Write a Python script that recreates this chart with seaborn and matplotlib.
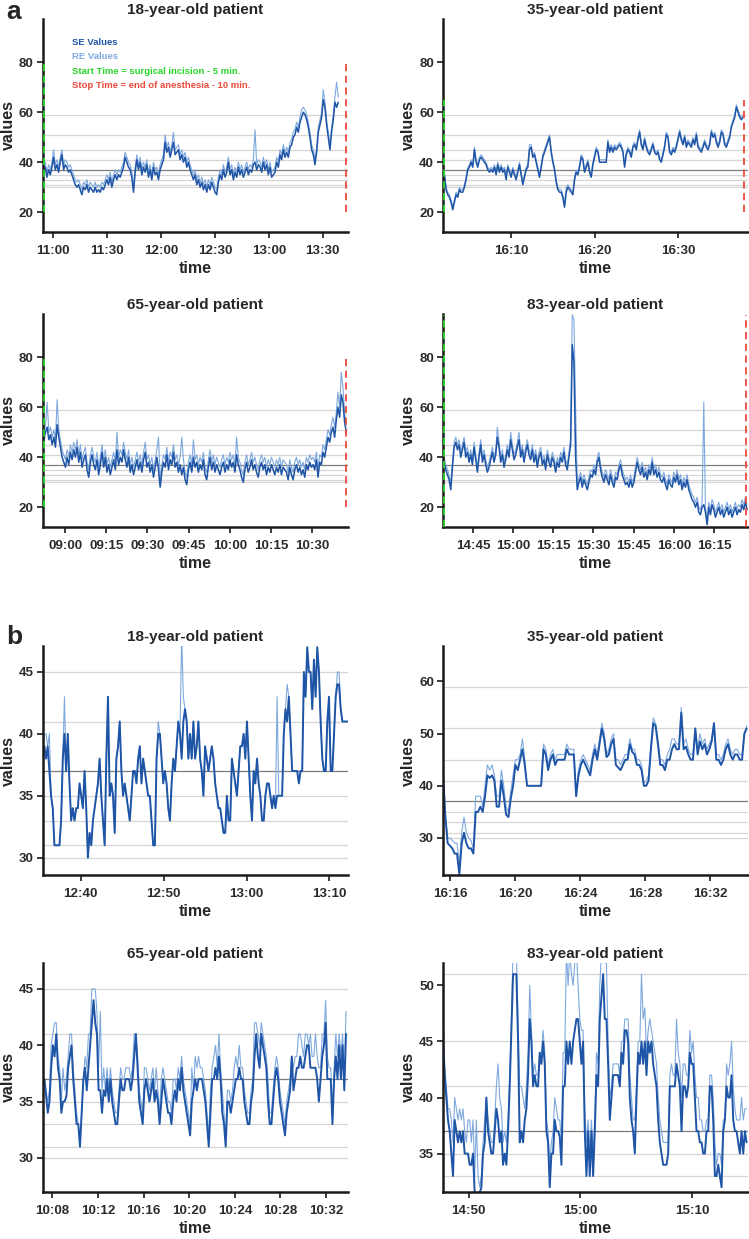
import numpy as np
import pandas as pd
import matplotlib
matplotlib.use("Agg")
import matplotlib.pyplot as plt
import matplotlib.dates as mdates
import seaborn as sns

# ---------------- data ----------------
# (a) full recordings, evenly sampled between start and end time
a18_se = [36,38,34,37,35,38,42,37,39,36,40,43,37,39,38,36,37,35,33,31,30,31,29,27,30,29,31,28,30,29,
          28,30,28,29,28,30,29,31,33,31,34,30,33,35,33,35,34,36,38,42,40,38,37,34,28,36,41,37,40,35,
          38,36,39,34,37,33,38,35,36,33,37,39,41,48,44,46,42,45,48,43,44,45,41,43,40,42,38,40,37,35,
          33,35,31,33,30,32,29,31,28,31,29,32,30,28,27,32,35,33,37,34,36,40,35,37,33,36,34,38,35,37,
          34,36,38,35,37,36,39,40,37,39,38,36,40,37,39,35,38,34,35,36,40,38,43,41,45,42,44,42,46,47,
          50,51,54,52,56,58,60,59,57,54,50,45,43,39,44,52,55,58,65,62,55,50,45,52,57,64,62,64]
a18_re = [38,40,36,39,37,40,45,39,41,38,42,45,39,41,40,38,39,37,35,33,32,33,31,29,32,31,33,30,32,31,
          30,32,30,31,30,32,31,33,35,33,36,32,35,37,35,37,36,38,40,44,42,40,39,36,30,38,43,39,42,37,
          40,38,41,36,39,35,40,37,38,35,39,41,43,51,46,48,44,47,52,45,46,47,43,45,42,44,40,42,39,37,
          35,37,33,35,32,34,31,33,30,33,31,34,32,30,29,34,37,35,39,36,38,42,37,39,35,38,36,40,37,39,
          36,38,40,37,39,38,41,53,39,41,40,38,42,39,41,37,40,36,37,38,42,40,45,43,47,44,46,44,48,49,
          52,53,56,54,58,61,62,61,59,56,52,47,45,41,46,54,57,60,69,64,57,52,47,54,59,66,72,66]

a35_se = [35,29,27,26,24,21,24,27,26,29,28,28,30,33,37,38,40,38,45,40,38,41,42,41,40,39,37,36,37,36,
          38,35,39,36,38,36,37,33,38,36,34,37,35,33,36,39,35,31,34,37,38,45,46,42,43,40,37,34,38,42,
          44,46,48,50,44,40,37,32,29,28,28,26,22,28,30,29,28,27,33,36,35,38,42,41,36,38,40,36,34,39,
          42,45,44,40,40,40,40,40,48,44,46,44,46,45,46,47,46,44,38,43,45,44,42,46,47,45,49,52,47,45,
          49,46,44,43,45,47,44,43,44,41,40,43,46,51,50,44,43,45,44,46,49,52,49,47,50,46,48,47,46,49,
          47,51,46,45,44,46,48,46,45,47,52,50,51,48,46,48,52,51,47,46,48,50,54,56,58,62,60,58,57,58]
a35_re = [36,30,28,27,25,22,25,28,27,30,29,29,31,34,38,39,41,39,46,41,39,42,43,42,41,40,38,37,38,37,
          39,36,40,37,39,37,38,34,39,37,35,38,36,34,37,40,36,32,35,38,39,47,47,43,44,41,38,35,39,43,
          45,47,49,51,45,41,38,33,30,29,29,27,23,30,31,30,29,28,34,37,36,39,43,42,37,39,41,37,35,40,
          43,46,45,41,41,41,41,41,49,45,47,45,47,46,47,48,47,45,39,44,46,45,43,47,48,46,50,53,48,46,
          50,47,45,44,46,48,45,44,45,42,41,44,47,52,51,45,44,46,45,47,50,53,50,48,51,47,49,48,47,50,
          48,52,47,46,45,47,49,47,46,48,53,51,52,49,47,49,53,52,48,47,49,51,55,57,59,63,61,59,58,59]

a65_se = [47,50,52,47,49,45,48,44,53,48,44,40,38,36,40,37,42,39,43,40,44,38,42,36,39,41,35,32,38,41,
          37,35,39,33,37,42,36,40,34,37,33,36,39,35,43,37,40,38,43,39,36,40,34,37,33,36,39,35,38,34,
          39,42,36,38,34,37,32,36,40,35,28,34,38,36,41,35,39,37,42,36,38,34,37,33,36,31,29,35,38,34,
          40,36,38,34,37,35,39,33,31,36,40,35,38,34,37,35,33,36,38,34,37,35,39,36,38,34,41,37,35,32,
          30,35,38,34,36,39,35,37,34,32,36,38,35,37,33,36,34,37,35,33,36,34,37,33,36,35,34,31,36,33,
          31,35,37,34,36,33,35,32,37,35,38,36,37,35,39,32,38,37,42,40,44,48,46,50,52,48,55,60,56,65,
          62,54,50]
a65_re = [49,53,62,50,52,48,51,47,63,51,47,43,41,39,43,40,45,42,46,43,47,41,45,39,42,44,38,35,41,44,
          40,38,42,36,40,45,39,43,37,40,36,39,42,38,50,40,43,41,46,42,39,43,37,40,36,39,42,38,41,37,
          42,46,39,41,37,40,35,39,43,48,31,37,41,39,44,38,42,40,45,39,41,37,40,48,39,34,32,38,41,37,
          47,39,41,37,40,38,42,36,34,39,43,38,41,37,40,38,36,39,41,37,40,38,42,39,41,37,48,40,38,35,
          33,38,41,37,39,42,38,40,37,35,39,41,38,40,36,39,37,40,38,36,39,37,40,36,39,38,37,34,39,36,
          34,38,40,37,39,36,38,35,40,38,41,39,40,38,42,35,41,40,45,43,47,51,49,53,56,52,58,66,60,74,
          68,58,53]

a83_se = [38,35,33,31,27,36,44,46,43,45,40,43,46,40,42,38,41,37,44,39,34,40,45,38,41,37,34,36,39,42,
          38,41,48,44,38,41,36,39,43,40,47,43,39,41,44,47,40,43,38,42,45,41,39,43,38,41,36,40,42,37,
          39,35,41,38,36,40,38,34,38,36,40,38,42,37,35,40,45,85,78,40,27,30,32,28,31,29,27,30,33,32,
          35,33,38,40,35,32,30,33,31,29,33,30,28,32,31,35,37,33,31,29,30,28,31,28,30,34,38,35,33,36,
          32,34,31,35,33,38,33,35,32,34,31,30,32,29,27,31,29,28,32,30,33,29,31,27,30,28,31,27,25,23,
          22,20,22,18,17,20,21,18,13,20,17,21,19,16,18,20,17,19,16,18,20,17,19,16,18,20,17,19,18,21,
          19,22,19]
a83_re = [40,37,35,33,29,38,46,48,45,47,42,45,48,42,44,40,43,39,46,41,36,42,47,40,43,39,36,38,41,44,
          40,43,52,46,40,43,38,41,45,42,50,45,41,43,46,50,42,45,40,44,47,43,41,45,40,43,38,42,44,39,
          41,37,43,40,38,42,40,36,40,38,42,40,44,39,37,42,47,97,95,60,29,32,34,30,33,31,29,32,35,34,
          37,35,40,42,37,34,32,35,33,31,35,32,30,34,33,37,39,35,33,31,32,30,33,30,32,36,40,37,35,38,
          34,36,33,37,35,40,35,37,34,36,33,32,34,31,29,33,31,30,34,32,35,31,33,29,32,30,33,29,27,25,
          24,22,24,20,19,22,62,20,15,22,19,23,21,18,20,22,19,21,18,20,22,19,21,18,20,22,19,21,20,23,
          21,24,21]

# (b) zoomed sections
b18_se = [38,39,38,39,37,35,34,31,31,31,31,33,38,40,37,40,36,33,34,33,34,34,36,35,34,37,34,30,32,31,
          33,34,35,36,38,35,33,31,38,43,35,36,35,32,38,39,41,37,35,36,35,34,33,35,37,37,36,38,39,36,
          38,37,36,35,35,33,31,31,38,40,40,38,36,37,36,34,33,36,38,37,39,41,40,38,41,42,41,38,40,38,
          41,38,39,41,38,37,35,39,38,37,38,39,38,36,35,34,34,33,32,32,35,33,33,38,37,36,35,37,39,39,
          40,38,41,38,35,33,37,36,38,36,35,33,33,35,36,36,35,34,35,34,35,35,35,35,40,42,41,43,40,37,
          37,37,37,36,37,37,45,43,47,45,45,42,46,43,47,45,41,38,37,37,41,43,37,37,40,43,44,44,42,41,
          41,41,41]
b18_re = [38,40,40,39,40,35,34,31,31,31,31,33,38,43,37,40,36,33,34,33,34,34,36,35,34,37,34,30,32,31,
          33,34,35,36,38,35,33,31,38,43,35,36,35,32,38,39,41,37,35,36,35,34,33,35,37,37,36,38,39,36,
          38,37,36,35,35,33,31,31,38,41,40,38,36,37,36,34,33,36,38,37,39,41,40,48,43,42,41,38,40,38,
          41,38,39,41,38,37,35,39,38,37,38,39,38,36,35,34,34,33,32,32,35,33,33,38,37,36,35,37,39,39,
          40,38,41,38,35,33,37,36,38,36,35,33,33,35,36,36,35,34,35,34,43,35,35,35,40,42,44,43,40,37,
          37,37,37,36,37,37,45,43,47,45,45,42,46,43,47,45,41,38,37,37,41,43,37,37,40,43,45,45,42,41,
          41,41,41]

b35_se = [42.5,34,29,28.5,28,27,27,23,29,31,29,28,28,27,35,35,36,35,38,42,41.5,42,41,36,36,41,38,34.5,34,37.5,
          40,44,43,45,47,44,40,40,40,40,40,40,40,47,46,43,45,46,44,45,45,45,45,47,46,46,46,38,42,44,
          45,44,43,42,45,47,45,48,51,49,45.5,46,48,49,44,43.5,43,44,45,45,48,46.5,46,44,44,43,40,40,41,47,
          52,51.5,48,44,44,43,45,45,47,48,47,47,54,47,47.5,46,45,45,51,46,48.5,47,48,46,47,48.5,52,45,45,44,
          45,47,48,46,45,46,46,45,45,50,51]
b35_re = [43,35,30,30,29.5,29,29,25,31,34,31,30,29.5,28,38,38,38,36,40,44,43,44,42,38,38,43,40,36,35,39,
          42,45,45,46,49,45,40,40,40,40,40,40,40,48,47,44,46,47,45,46,46,46,46,48,47,47,47,39,43,45,
          46,45,44,43,46,48,46,49,52,50,46,47,49,50,45,45,44,45,46,46,49,47,47,45,45,44,40.5,41,42,48,
          53,52,49,45,45,44,46,47,49,49,48,48,55,48,49,47,46,46,51,47,50,48,49,47,48,49,52,46,46,45,
          46,48,49,47,46,47,47,46,46,50,51.5]

b65_se = [37,37,35.5,34,35,38,40,39,41,38,37,34,35,35,35.5,38,39,40,37,35,33,33,31,34,37,38,36,38,40,42,
          44,42,41,36,36,34,36,35.5,37,35,37,35,34,33,33,35,37,36,36,37,37,37,36,37,39,41,38,35,34,33,
          36,37,36,35,36,37,35,36,35,33,35,37,36,35,34,34,33,35,36,35,37,36,38,36,35,34,33,32,35,36,
          37,36,37,37,37,36,35,33,31,34,37,37,38,37,39,37,34,33,31,35,35,34,35,36,37,37,38,37,37,35,
          34,33,33,35,36,39,41,39,38,41,40,39,38,35,33,33,35,37,38,37,35,34,33,32,34,35,36,39,36,37,
          38,38,39,38,38,39,40,40,38,38,38,38,37,35,37,39,40,42,37,37,37,33,37,39,37,40,37,40,36,41]
b65_re = [37,37,36,35,36,40,41,42,42,39,38,35,38,36,37,39,41,41,38,36,34,33,31,34,37,39,38,41,41,45,
          45,45,43,38,43,36,38,36,38,36,38,36,35,34,34,36,38,37,37,38,38,38,37,38,41,41,39,36,35,34,
          38,38,37,36,37,38,36,38,36,34,37,38,37,36,35,35,34,37,37,36,38,37,39,37,36,35,34,33,38,36,
          39,38,39,38,38,37,36,34,32,36,38,39,40,38,41,38,36,34,32,36,36,35,36,38,39,38,40,38,38,36,
          35,34,34,36,37,42,42,41,40,42,41,40,39,37,34,34,36,38,39,38,36,35,34,33,35,36,37,39,38,39,
          39,41,41,40,39,41,41,40,41,39,39,41,39,38,38,41,41,44,39,38,38,34,38,41,39,41,39,41,37,43]

b83_se = [45,42,40,38,37,35,33,38,37,36,37,36,37,35,35,35,34,34,35,31.5,31.5,31.5,31.5,32,35,36,40,37,36,35,
          35,37,39,38,36,37,34,35,34,37,41,46,51,51,51,45,36,37,36,38,39,42,47,45,41,42,41,41,44,43,
          45,43,37,36,32,35,35,38,37,37,36.5,34,41,41,45,43,45,43,45,46,47,47,45,43,45,37,33,37,33,37,
          33,37,42,41,47,49,51,47,47,43,38,40,42,42,42,42,41,44,43,46,46,45,40,38,37,35,40,44,43,45,
          43,45,42,45,44,45,43,42,41,38,36,35,34,34,34,35,41,41,41,41,43,42,41,37,41,41,40,41,44,43,
          43,40,37,37,36,36,35,35,37,37,41,41,38,33,33,34,33,32,37,38,41,40,40,42,38,37,37,36,35,37,
          35,37,36]
b83_re = [48,43,41,39,39,38,36,40,39,38,39,38,39,37,36,38,38,36,38,33,38,33,32,33,36,38,40,38,37,36,
          36,38,41,43,40,39,36,37,36,38,42,47,53,53,53,47,41,41,40,39,41,44,50,46,42,43,42,42,44,44,
          46,44,38,37,34,36,37,40,39,38,38,36,44,44,53,50,53,51,50,52,53,50,47,46,46,39,36,38,35,38,
          35,38,44,43,50,53,53,52,52,45,40,41,43,43,43,43,42,45,45,47,47,47,42,40,38,38,41,45,45,51,
          47,48,44,46,47,46,45,44,43,40,38,37,36,36,36,36,42,43,42,42,47,44,43,40,43,43,42,42,46,44,
          45,42,40,40,38,38,37,37,38,38,42,42,40,36,34,35,35,34,38,38,43,42,43,45,41,39,38,38,38,40,
          38,39,39]

titles = ["18-year-old patient", "35-year-old patient", "65-year-old patient", "83-year-old patient"]

# recording windows (clock time)
a_start = ["10:54:40", "16:02:00", "08:52:15", "14:34:15"]     # start time = incision - 5 min
a_end = ["13:38:40", "16:37:48", "10:42:24", "16:27:20"]
a_stop = ["13:42:45", "16:37:55", "10:42:12", "16:27:00"]      # stop time = end of anesthesia - 10 min
a_xmin = ["10:54:10", "16:01:50", "08:51:50", "14:33:50"]
a_xmax = ["13:43:55", "16:38:20", "10:42:55", "16:27:30"]
a_vline_lo = [20, 20, 20, 12]
a_vline_hi = [80, 65, 80, 97]

b_start = ["12:35:25", "16:15:33", "10:07:09", "14:47:42"]
b_end = ["13:12:10", "16:34:15", "10:33:45", "15:14:52"]
b_xmax = ["13:12:12", "16:34:18", "10:33:54", "15:14:57"]
b_ylim = [(28.6, 47.1), (22.9, 66.8), (27.0, 47.3), (31.6, 52.0)]
b_yticks = [[30, 35, 40, 45], [30, 40, 50, 60], [30, 35, 40, 45], [35, 40, 45, 50]]

ref_levels = [30, 31, 33, 35, 41, 45, 51, 59]
mid_level = 37

SE_COLOR = "#1f55a6"
RE_COLOR = "#7fa9de"
START_COLOR = "#2bd62b"
STOP_COLOR = "#ea4a3c"

sns.set_style("ticks")
plt.rcParams["font.family"] = ["Liberation Sans", "DejaVu Sans"]
plt.rcParams["font.weight"] = "bold"
plt.rcParams["axes.labelweight"] = "bold"
plt.rcParams["axes.titleweight"] = "bold"


def clock(s):
    return mdates.date2num(pd.Timestamp("2021-03-01 " + s))


def span(n, start, end):
    return np.linspace(clock(start), clock(end), n)


W, H = 749, 1239
cols = [(42.7, 347.7), (443.0, 747.5)]
rows = [(19, 231.7), (314, 526.7), (646, 875), (963, 1191.7)]

fig = plt.figure(figsize=(W / 100, H / 100), dpi=100)


def make_ax(r, c):
    l, rr = cols[c]
    t, b = rows[r]
    return fig.add_axes([l / W, 1 - b / H, (rr - l) / W, (b - t) / H])


def style(ax, title):
    for lv in ref_levels:
        ax.axhline(lv, color="#d6d6d6", lw=0.9, zorder=0)
    ax.axhline(mid_level, color="#7c7c7c", lw=0.9, zorder=0.5)
    sns.despine(ax=ax)
    for sp in ["left", "bottom"]:
        ax.spines[sp].set_linewidth(1.8)
        ax.spines[sp].set_color("#1a1a1a")
    ax.tick_params(direction="out", length=4, width=1.2, labelsize=9.6,
                   colors="#1a1a1a", labelcolor="#2b2b2b", pad=2.5)
    ax.tick_params(axis="x", pad=5.5)
    ax.xaxis.set_major_formatter(mdates.DateFormatter("%H:%M"))
    ax.set_title(title, fontsize=11, pad=3.5)
    ax.set_xlabel("time", fontsize=11.5, labelpad=3)
    ax.set_ylabel("values", fontsize=11.5, labelpad=2)


def draw(ax, se, re, start, end, lw_se, lw_re):
    sns.lineplot(x=span(len(re), start, end), y=re, ax=ax, color=RE_COLOR,
                 linewidth=lw_re, estimator=None, sort=False, legend=False)
    re_line = ax.get_lines()[-1]
    sns.lineplot(x=span(len(se), start, end), y=se, ax=ax, color=SE_COLOR,
                 linewidth=lw_se, estimator=None, sort=False, legend=False)
    se_line = ax.get_lines()[-1]
    return se_line, re_line


a_series = [(a18_se, a18_re), (a35_se, a35_re), (a65_se, a65_re), (a83_se, a83_re)]
b_series = [(b18_se, b18_re), (b35_se, b35_re), (b65_se, b65_re), (b83_se, b83_re)]
a_locs = [[0, 30], list(range(0, 60, 10)), [0, 15, 30, 45], [0, 15, 30, 45]]
b_locs = [list(range(0, 60, 10)), list(range(0, 60, 4)), list(range(0, 60, 4)), list(range(0, 60, 10))]

# ---- panel a ----
for i, (se, re) in enumerate(a_series):
    ax = make_ax(i // 2, i % 2)
    se_line, re_line = draw(ax, se, re, a_start[i], a_end[i], 1.1, 0.8)
    g = ax.vlines(clock(a_start[i]), a_vline_lo[i], a_vline_hi[i], colors=START_COLOR,
                  linestyles=(0, (4, 2.5)), lw=1.3, zorder=4)
    r = ax.vlines(clock(a_stop[i]), a_vline_lo[i], a_vline_hi[i], colors=STOP_COLOR,
                  linestyles=(0, (4, 2.5)), lw=1.3, zorder=4)
    ax.set_xlim(clock(a_xmin[i]), clock(a_xmax[i]))
    ax.set_ylim(12.2, 97.3)
    ax.set_yticks([20, 40, 60, 80])
    ax.xaxis.set_major_locator(mdates.MinuteLocator(byminute=a_locs[i]))
    style(ax, titles[i])
    if i == 0:
        leg = ax.legend([se_line, re_line, g, r],
                        ["SE Values", "RE Values", "Start Time = surgical incision - 5 min.",
                         "Stop Time = end of anesthesia - 10 min."],
                        loc="upper left", bbox_to_anchor=(0.095, 0.91), frameon=False,
                        handlelength=0, handletextpad=0, borderpad=0, borderaxespad=0,
                        labelspacing=0.55, prop={"size": 6.8, "weight": "bold"})
        for txt, col in zip(leg.get_texts(), [SE_COLOR, RE_COLOR, START_COLOR, STOP_COLOR]):
            txt.set_color(col)
        for h in leg.legend_handles:
            h.set_visible(False)

# ---- panel b ----
for i, (se, re) in enumerate(b_series):
    ax = make_ax(2 + i // 2, i % 2)
    draw(ax, se, re, b_start[i], b_end[i], 1.4, 0.8)
    ax.set_xlim(clock(b_start[i]), clock(b_xmax[i]))
    ax.set_ylim(*b_ylim[i])
    ax.set_yticks(b_yticks[i])
    ax.xaxis.set_major_locator(mdates.MinuteLocator(byminute=b_locs[i]))
    style(ax, titles[i])

fig.text(6 / W, 1 - 19 / H, "a", fontsize=19, fontweight="bold", va="baseline")
fig.text(6 / W, 1 - 644 / H, "b", fontsize=19, fontweight="bold", va="baseline")

fig.savefig("out.png", dpi=100)
